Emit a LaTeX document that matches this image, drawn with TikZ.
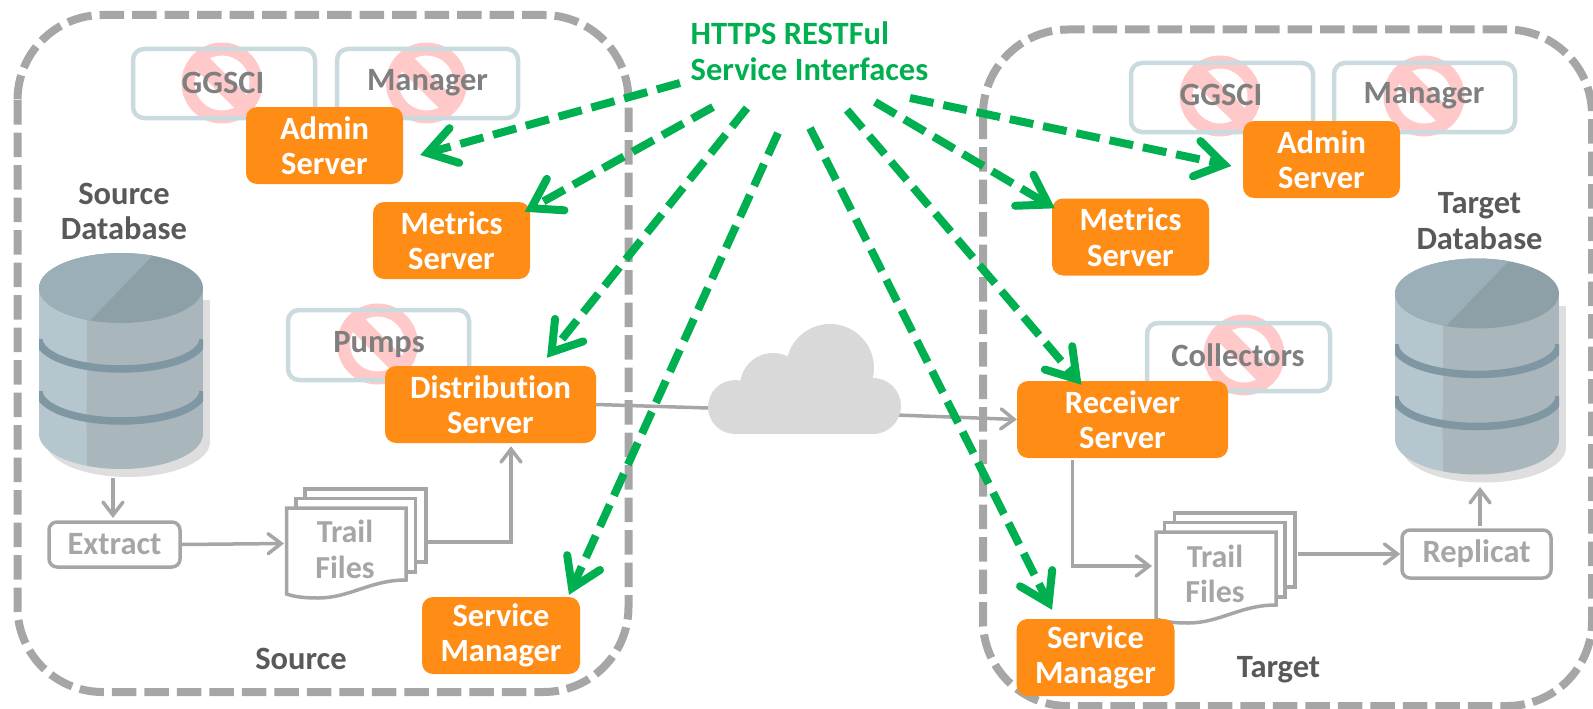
\documentclass[tikz,border=0pt]{standalone}
\usepackage{fontspec}
\setmainfont[Ligatures=NoCommon]{Carlito}
\usetikzlibrary{arrows.meta,positioning}
\definecolor{grayline}{HTML}{A6A6A6}
\definecolor{orangebox}{HTML}{FF8C14}
\definecolor{greenlink}{HTML}{00B050}
\definecolor{paleblue}{HTML}{CADBE0}
\definecolor{pinksign}{HTML}{FFC9C9}
\definecolor{cloudgray}{HTML}{D9D9D9}
\definecolor{darktext}{HTML}{595959}
\definecolor{midtext}{HTML}{7F7F7F}
\tikzset{
  zone/.style={draw=grayline,line width=8pt,rounded corners=85pt,dash pattern=on 24.5pt off 8pt},
  srv/.style={fill=orangebox,rounded corners=11pt,text=white,align=center,inner sep=0pt,
     font=\fontsize{32.5}{35.5}\selectfont\bfseries},
  oldbox/.style={draw=paleblue,line width=4.5pt,rounded corners=11pt,inner sep=0pt},
  oldtxt/.style={text=midtext,inner sep=0pt,font=\fontsize{32.5}{35}\selectfont\bfseries},
  procbox/.style={draw=grayline,line width=3.5pt,rounded corners=8pt,inner sep=0pt,text=grayline,
     font=\fontsize{32.5}{35}\selectfont\bfseries},
  lbl/.style={text=darktext,align=center,inner sep=0pt,font=\fontsize{32.5}{35.5}\selectfont\bfseries},
  traillbl/.style={text=grayline,align=center,inner sep=0pt,font=\fontsize{32}{35.5}\selectfont\bfseries},
  page/.style={draw=grayline,line width=3.5pt,fill=white},
  flow/.style={draw=grayline,line width=3.5pt,-{Straight Barb[length=13pt,width=20pt,line cap=round]}},
  plainflow/.style={draw=grayline,line width=3.5pt},
  rest/.style={draw=greenlink,line width=8pt,dash pattern=on 24pt off 10pt,
     -{Straight Barb[length=28pt,width=36pt,line cap=round]}},
}
\newcommand{\nosym}[2]{%
  \draw[pinksign,line width=13pt] (#1,#2) circle[radius=34];
  \draw[pinksign,line width=18pt] (#1-25,#2-25) -- (#1+25,#2+25);}
\newcommand{\dbcyl}[2]{%
 \begin{scope}[shift={(#1,#2)}]
  \fill[black!13] (46,300) rectangle (210,442);
  \fill[black!13] (128,442) ellipse[x radius=82,y radius=35];
  \begin{scope}
   \clip (30,240) rectangle (86.5,480);
   \fill[HTML-bodyL] (39,288) rectangle (203,434);
   \fill[HTML-bodyL] (121,434) ellipse[x radius=82,y radius=35];
  \end{scope}
  \begin{scope}
   \clip (86.5,240) rectangle (215,480);
   \fill[HTML-bodyR] (39,288) rectangle (203,434);
   \fill[HTML-bodyR] (121,434) ellipse[x radius=82,y radius=35];
  \end{scope}
  \begin{scope}
   \clip (39,339) rectangle (203,385);
   \draw[HTML-ring,line width=7.5pt] (121,339) ellipse[x radius=82,y radius=30];
  \end{scope}
  \begin{scope}
   \clip (39,391) rectangle (203,437);
   \draw[HTML-ring,line width=7.5pt] (121,391) ellipse[x radius=82,y radius=30];
  \end{scope}
  \fill[HTML-topR] (121,288) ellipse[x radius=82,y radius=35];
  \begin{scope}
   \clip (30,250) -- (158,250) -- (86.5,324) -- (30,324) -- cycle;
   \fill[HTML-topL] (121,288) ellipse[x radius=82,y radius=35];
  \end{scope}
 \end{scope}}
\definecolor{HTML-bodyL}{HTML}{B6C6CE}
\definecolor{HTML-bodyR}{HTML}{A9B6BC}
\definecolor{HTML-ring}{HTML}{7F97A3}
\definecolor{HTML-topL}{HTML}{9BAFB8}
\definecolor{HTML-topR}{HTML}{8DA0A8}
\begin{document}
\begin{tikzpicture}[x=1pt,y=-1pt]
\useasboundingbox (0,0) rectangle (1593,709);
% zones
\draw[zone] (17.5,15) rectangle (628.5,692);
\draw[zone] (983,29.5) rectangle (1592,706);
% databases
\dbcyl{0}{0}
\dbcyl{1356}{5.5}
% prohibition signs
\nosym{222}{83}
\nosym{426.5}{83}
\nosym{377.5}{344}
\nosym{1220}{96}
\nosym{1424}{96}
\nosym{1244}{355}
% retired components
\node[oldbox,minimum width=182pt,minimum height=69pt] (ggscis) at (224,83.5) {};
\node[oldbox,minimum width=181pt,minimum height=69pt] (mgrs) at (427.5,83.5) {};
\node[oldbox,minimum width=181pt,minimum height=70pt] (pumps) at (378.5,345) {};
\node[oldbox,minimum width=182pt,minimum height=69pt] (ggscit) at (1222,97.5) {};
\node[oldbox,minimum width=181pt,minimum height=69pt] (mgrt) at (1424.5,97.5) {};
\node[oldbox,minimum width=183pt,minimum height=68pt] (coll) at (1238.5,357) {};
\node[oldtxt] (ggscistxt) at (223,83) {GGSCI};
\node[oldtxt] (mgrstxt) at (427.5,83) {Manager};
\node[oldtxt] (pumpstxt) at (379,345) {Pumps};
\node[oldtxt] (ggscittxt) at (1221,95) {GGSCI};
\node[oldtxt] (mgrttxt) at (1424,96) {Manager};
\node[oldtxt] (colltxt) at (1238,355) {Collectors};
% labels
\node[lbl] (srcdb) at (124,211.5) {Source\\Database};
\node[lbl] (tgtdb) at (1479.5,221) {Target\\Database};
\node[lbl] (srclbl) at (301,659) {Source};
\node[lbl] (tgtlbl) at (1278.5,670) {Target};
% cloud
\node[inner sep=0pt,minimum width=193pt,minimum height=110pt] (cloud) at (804.5,379) {};
% servers
\node[srv,minimum width=157pt,minimum height=77pt] (admins) at (324.5,145.5) {Admin\\Server};
\node[srv,minimum width=157pt,minimum height=77pt] (metrs) at (451.5,240.5) {Metrics\\Server};
\node[srv,minimum width=211pt,minimum height=77pt] (dist) at (490.5,404.5) {Distribution\\Server};
\node[srv,minimum width=158pt,minimum height=77pt] (sms) at (501,635.5) {Service\\Manager};
\node[srv,minimum width=157pt,minimum height=77pt] (admint) at (1321.5,159.5) {Admin\\Server};
\node[srv,minimum width=157pt,minimum height=77pt] (metrt) at (1130.5,237) {Metrics\\Server};
\node[srv,minimum width=211pt,minimum height=77pt] (recv) at (1122.5,419.5) {Receiver\\Server};
% process boxes
\node[procbox,minimum width=131pt,minimum height=45pt] (extract) at (114.5,544.5) {Extract};
\node[procbox,minimum width=149pt,minimum height=48pt] (replicat) at (1476.5,554) {Replicat};
% trail files
\draw[page] (305,498) -- (305,489) -- (426,489) -- (426,562) -- (416,562);
\draw[page] (296,508) -- (296,498.5) -- (415.5,498.5) -- (415.5,572) -- (406,572);
\draw[page] (286.5,508) -- (406,508) -- (406,580) .. controls (370,580) and (350,598) .. (318,598) .. controls (305,598) and (295,597) .. (286.5,594) -- cycle;
\draw[page] (1174.5,522) -- (1174.5,513) -- (1295,513) -- (1295,587) -- (1285,587);
\draw[page] (1164.5,532) -- (1164.5,522.5) -- (1285,522.5) -- (1285,597) -- (1276,597);
\draw[page] (1156,532) -- (1276,532) -- (1276,605) .. controls (1240,605) and (1220,623) .. (1188,623) .. controls (1175,623) and (1165,622) .. (1156,619) -- cycle;
\node[srv,minimum width=158pt,minimum height=77pt] (smt) at (1095.5,657.5) {Service\\Manager};
\node[traillbl] (trails) at (345,549.5) {Trail\\Files};
\node[traillbl] (trailt) at (1215,574) {Trail\\Files};
\coordinate (trailsin) at (284,543.5);
\coordinate (trailsout) at (428,542);
\coordinate (trailtin) at (1152,566);
\coordinate (trailtout) at (1298,554);
\coordinate (dbsout) at (113,478);
\coordinate (dbtin) at (1480,487);
% flows
\draw[flow] (dbsout) -- (113,518);
\draw[flow] (extract.east) -- (trailsin);
\draw[flow] (trailsout) -| ([shift={(20.5,3)}]dist.south);
\draw[plainflow] (dist.east) -- ([shift={(0,29)}]cloud.west);
\draw[flow] ([shift={(-5,36)}]cloud.east) -- (recv.west);
\draw[flow] ([shift={(-50,2)}]recv.south) |- (trailtin);
\draw[flow] (trailtout) -- (replicat.west);
\draw[flow] ([shift={(3.5,-2)}]replicat.north) -- (dbtin);
% cloud shape
\fill[cloudgray] (735,407) circle[radius=27];
\fill[cloudgray] (773,386) circle[radius=33];
\fill[cloudgray] (830,368) circle[radius=44];
\fill[cloudgray] (873,406) circle[radius=28];
\fill[cloudgray] (735,385) rectangle (873,434);
% title
\node[inner sep=0pt,align=left,text=greenlink,font=\fontsize{32.5}{36}\selectfont\bfseries] (title) at (809.5,51) {HTTPS RESTFul\\Service Interfaces};
\coordinate (s1) at (680,83);
\coordinate (s2) at (713,107);
\coordinate (s3) at (747,108);
\coordinate (s4) at (778,133);
\coordinate (s5) at (810,128);
\coordinate (s6) at (847,110);
\coordinate (s7) at (875,102);
\coordinate (s8) at (910,98);
% REST links
\draw[rest] (s1) -- ([shift={(17,9.5)}]admins.east);
\draw[rest] (s2) -- ([shift={(-5.5,10)}]metrs.north east);
\draw[rest] (s3) -- ([shift={(56.5,-8)}]dist.north);
\draw[rest] (s4) -- ([shift={(68,-2)}]sms.north);
\draw[rest] (s5) -- ([shift={(-43.5,-9)}]smt.north);
\draw[rest] (s6) -- ([shift={(-41,4)}]recv.north);
\draw[rest] (s7) -- ([shift={(3,10)}]metrt.north west);
\draw[rest] (s8) -- ([shift={(-11.5,6.5)}]admint.west);
\end{tikzpicture}
\end{document}
